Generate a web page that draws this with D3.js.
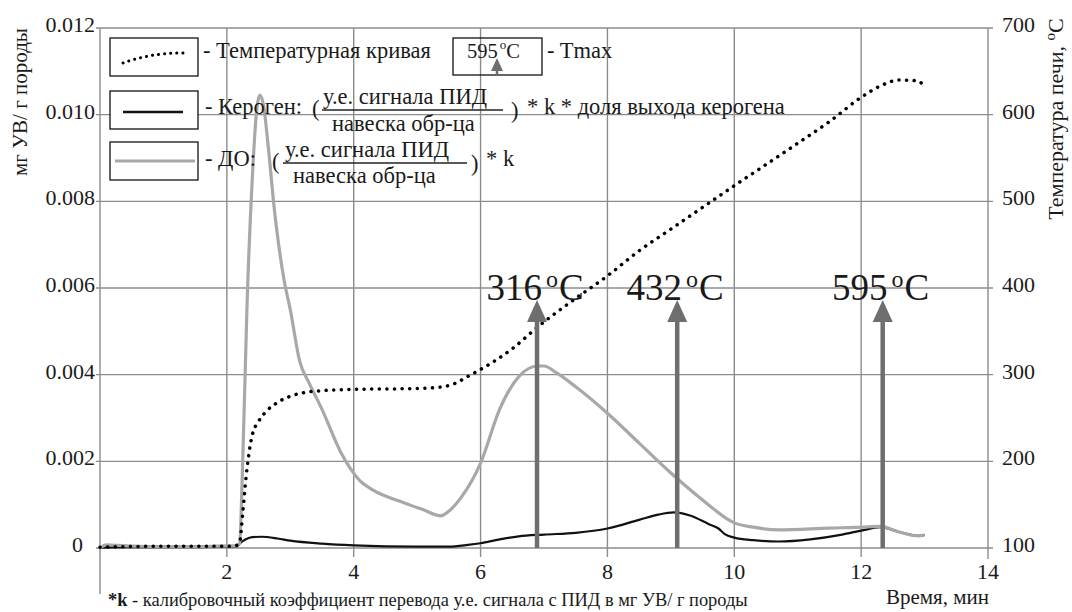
<!DOCTYPE html>
<html lang="ru">

<head>
    <meta charset="UTF-8">
    <title>Пиролиз: кероген и ДО</title>
    <script src="https://d3js.org/d3.v7.min.js"></script>
    <style>
        body {
            margin: 0;
            background: #fff;
        }
    </style>
</head>

<body>
    <svg width="1072" height="612" font-family="'Liberation Serif', 'DejaVu Serif', serif"></svg>

    <script>
        // температурная кривая (правая ось, °C)
        const tempTime = [0, 1, 2, 2.15, 2.2, 2.25, 2.3, 2.35, 2.4, 2.5, 2.6, 2.8, 3.0, 3.4, 4.0, 5.0, 5.4, 5.6, 5.8, 6.0,
            6.5, 6.9, 7.5, 8.0, 8.5, 9.0, 10.0, 11.0, 11.5, 12.0, 12.3, 12.6, 12.9, 13.0];
        const tempValues = [101, 102, 102, 103, 106, 140, 180, 210, 230, 246, 256, 268, 275, 281, 283, 284, 286, 290, 298, 306,
            330, 355, 388, 414, 443, 468, 518, 567, 592, 620, 633, 640, 639, 631];

        // кероген (левая ось, мг УВ/г)
        const kerTime = [0, 0.5, 1, 1.5, 2.0, 2.15, 2.2, 2.3, 2.4, 2.55, 2.8, 3.0, 3.5, 4.0, 5.0, 5.5, 5.8, 6.0, 6.3, 6.6,
            7.0, 7.5, 8.0, 8.5, 8.8, 9.05, 9.3, 9.6, 9.75, 9.85, 10.0, 10.3, 10.7, 11.2, 11.7, 12.0, 12.3, 12.6, 12.9, 13.0];
        const kerValues = [0.00001, 0.00002, 0.00002, 0.00002, 0.00003, 0.00003, 0.0001, 0.0002, 0.00025, 0.00026, 0.00022,
            0.00017, 0.0001, 0.00006, 0.00003, 0.00003, 0.00007, 0.00011, 0.0002, 0.00027, 0.00031, 0.00035, 0.00045,
            0.00065, 0.00077, 0.00082, 0.00075, 0.00055, 0.00045, 0.00032, 0.00024, 0.00018, 0.00015, 0.0002, 0.00031,
            0.0004, 0.00048, 0.00037, 0.00028, 0.0003];

        // ДО (левая ось, мг УВ/г)
        const doTime = [0, 0.1, 0.3, 0.6, 1.0, 1.5, 2.0, 2.15, 2.2, 2.25, 2.32, 2.4, 2.47, 2.52, 2.58, 2.65, 2.75, 2.9, 3.0,
            3.15, 3.3, 3.5, 3.8, 4.1, 4.3, 4.8, 5.1, 5.37, 5.5, 5.7, 6.0, 6.3, 6.6, 6.9, 7.0, 7.2, 7.5, 8.0, 8.5, 9.0, 9.5,
            10.0, 10.3, 10.7, 11.5, 12.0, 12.3, 12.6, 12.9, 13.0];
        const doValues = [0, 0.00007, 0.00006, 0.00004, 0.00003, 0.00003, 0.00005, 0.00005, 0.0001, 0.002, 0.0057, 0.0085,
            0.0101, 0.01045, 0.0102, 0.0093, 0.0078, 0.0062, 0.0055, 0.0043, 0.0038, 0.0032, 0.0022, 0.00155, 0.00134,
            0.00104, 0.00088, 0.00074, 0.00085, 0.00118, 0.00196, 0.0032, 0.00395, 0.0042, 0.0042, 0.00404, 0.00372,
            0.00311, 0.00242, 0.00173, 0.00111, 0.00058, 0.00048, 0.00042, 0.00046, 0.00048, 0.0005, 0.00037, 0.00028, 0.0003];

        // Tmax
        const tmaxTime = [6.89, 9.1, 12.34];
        const tmaxLabels = ["316", "432", "595"];

        const xTicks = [2, 4, 6, 8, 10, 12, 14];
        const leftTicks = [0, 0.002, 0.004, 0.006, 0.008, 0.010, 0.012];
        const leftTickLabels = ["0", "0.002", "0.004", "0.006", "0.008", "0.010", "0.012"];
        const rightTicks = [100, 200, 300, 400, 500, 600, 700];

        const svg = d3.select("svg");
        const gridColor = "#8c8c8c";
        const arrowColor = "#6e6e6e";
        const ink = "#1a1a1a";

        const x = d3.scaleLinear().domain([0, 14]).range([100, 988]);
        const yL = d3.scaleLinear().domain([0, 0.012]).range([548, 28]);
        const yR = d3.scaleLinear().domain([100, 700]).range([548, 28]);

        // сетка
        const grid = svg.append("g");
        grid.selectAll(".hg")
            .data(leftTicks)
            .enter()
            .append("line")
            .attr("x1", x(0) - 4).attr("x2", x(14) + 5)
            .attr("y1", d => yL(d)).attr("y2", d => yL(d))
            .attr("stroke", gridColor).attr("stroke-width", 1.4);

        grid.selectAll(".vg")
            .data(xTicks.filter(d => d < 14))
            .enter()
            .append("line")
            .attr("x1", d => x(d)).attr("x2", d => x(d))
            .attr("y1", yL(0.012)).attr("y2", yL(0) + 9)
            .attr("stroke", gridColor).attr("stroke-width", 1.4);

        // оси
        grid.append("line")
            .attr("x1", x(0)).attr("x2", x(0))
            .attr("y1", yL(0.012)).attr("y2", 594)
            .attr("stroke", gridColor).attr("stroke-width", 1.4);
        grid.append("line")
            .attr("x1", x(14)).attr("x2", x(14))
            .attr("y1", yL(0.012)).attr("y2", yL(0) + 11)
            .attr("stroke", gridColor).attr("stroke-width", 1.4);

        // подписи осей
        svg.append("g").selectAll("text")
            .data(leftTicks)
            .enter()
            .append("text")
            .attr("x", (d, i) => i === 0 ? 83 : 95)
            .attr("y", d => yL(d) + 4)
            .attr("text-anchor", "end")
            .attr("font-size", 22)
            .attr("fill", ink)
            .text((d, i) => leftTickLabels[i]);

        svg.append("g").selectAll("text")
            .data(rightTicks)
            .enter()
            .append("text")
            .attr("x", 1002)
            .attr("y", d => yR(d) + 4)
            .attr("font-size", 22)
            .attr("fill", ink)
            .text(d => d);

        svg.append("g").selectAll("text")
            .data(xTicks)
            .enter()
            .append("text")
            .attr("x", d => x(d))
            .attr("y", 579)
            .attr("text-anchor", "middle")
            .attr("font-size", 22)
            .attr("fill", ink)
            .text(d => d);

        svg.append("text")
            .attr("transform", "translate(27,102) rotate(-90)")
            .attr("text-anchor", "middle")
            .attr("font-size", 21)
            .attr("fill", ink)
            .text("мг УВ/ г породы");

        const rt = svg.append("text")
            .attr("transform", "translate(1063,119) rotate(-90)")
            .attr("text-anchor", "middle")
            .attr("font-size", 22)
            .attr("fill", ink);
        rt.append("tspan").text("Температура печи, ");
        rt.append("tspan").attr("font-size", 15).attr("dy", -8).text("o");
        rt.append("tspan").attr("dy", 8).text("C");

        svg.append("text")
            .attr("x", 989).attr("y", 604)
            .attr("text-anchor", "end")
            .attr("font-size", 21)
            .attr("fill", ink)
            .text("Время, мин");

        const foot = svg.append("text")
            .attr("x", 108).attr("y", 606)
            .attr("font-size", 18.4)
            .attr("fill", ink);
        foot.append("tspan").attr("font-weight", "bold").text("*k");
        foot.append("tspan").text(" - калибровочный коэффициент перевода у.е. сигнала с ПИД в мг УВ/ г породы");

        // кривые
        const lineL = (xs, ys) => d3.line()
            .x((d, i) => x(xs[i]))
            .y(d => yL(d))
            .curve(d3.curveMonotoneX)(ys);

        svg.append("path")
            .attr("d", lineL(kerTime, kerValues))
            .attr("fill", "none")
            .attr("stroke", "#111")
            .attr("stroke-width", 2.2);

        svg.append("path")
            .attr("d", lineL(doTime, doValues))
            .attr("fill", "none")
            .attr("stroke", "#a8a8a8")
            .attr("stroke-width", 3.2)
            .attr("stroke-linejoin", "round");

        const tempLine = d3.line()
            .x((d, i) => x(tempTime[i]))
            .y(d => yR(d))
            .curve(d3.curveMonotoneX);

        svg.append("path")
            .attr("d", tempLine(tempValues))
            .attr("fill", "none")
            .attr("stroke", "#000")
            .attr("stroke-width", 3.5)
            .attr("stroke-linecap", "round")
            .attr("stroke-dasharray", "0.1,7.5");

        // стрелки Tmax
        const arrows = svg.append("g");
        tmaxTime.forEach(function (t, i) {
            const ax = x(t);
            arrows.append("line")
                .attr("x1", ax).attr("x2", ax)
                .attr("y1", yL(0)).attr("y2", 318)
                .attr("stroke", arrowColor).attr("stroke-width", 4.5);
            arrows.append("path")
                .attr("d", `M${ax},300 L${ax - 10},322 L${ax + 10},322 Z`)
                .attr("fill", arrowColor);
            const lbl = arrows.append("text")
                .attr("x", ax - 2).attr("y", 300)
                .attr("text-anchor", "middle")
                .attr("font-size", 37)
                .attr("fill", ink);
            lbl.append("tspan").text(tmaxLabels[i]);
            lbl.append("tspan").attr("font-size", 24).attr("dy", -13).attr("dx", 4).text("o");
            lbl.append("tspan").attr("dy", 13).attr("dx", 1).text("C");
        });

        // легенда
        const fs = 22.5;
        const leg = svg.append("g").attr("fill", ink).attr("font-size", fs);
        [38, 91, 142].forEach(function (yy) {
            leg.append("rect")
                .attr("x", 110).attr("y", yy).attr("width", 88).attr("height", 38)
                .attr("fill", "#fff").attr("stroke", "#111").attr("stroke-width", 1.3);
        });
        leg.append("path")
            .attr("d", "M123,63 Q150,53 183,53")
            .attr("fill", "none").attr("stroke", "#000").attr("stroke-width", 3)
            .attr("stroke-linecap", "round").attr("stroke-dasharray", "0.1,6");
        leg.append("line")
            .attr("x1", 123).attr("x2", 183).attr("y1", 112).attr("y2", 112)
            .attr("stroke", "#111").attr("stroke-width", 2.4);
        leg.append("line")
            .attr("x1", 115).attr("x2", 195).attr("y1", 161).attr("y2", 161)
            .attr("stroke", "#a8a8a8").attr("stroke-width", 3);

        leg.append("text").attr("x", 203).attr("y", 58).text("- Температурная кривая");

        // рамка Tmax
        leg.append("rect")
            .attr("x", 453).attr("y", 38).attr("width", 89).attr("height", 37)
            .attr("fill", "none").attr("stroke", "#111").attr("stroke-width", 1.3);
        const tb = leg.append("text").attr("x", 467).attr("y", 58).attr("font-size", 20.5);
        tb.append("tspan").text("595");
        tb.append("tspan").attr("font-size", 13).attr("dy", -9).attr("dx", 2).text("o");
        tb.append("tspan").attr("dy", 9).text("C");
        leg.append("path")
            .attr("d", "M497,58 L491,71 L503,71 Z")
            .attr("fill", arrowColor);
        leg.append("line")
            .attr("x1", 497).attr("x2", 497).attr("y1", 70).attr("y2", 75)
            .attr("stroke", arrowColor).attr("stroke-width", 2.5);
        leg.append("text").attr("x", 547).attr("y", 58).text("- Tmax");

        // Кероген
        leg.append("text").attr("x", 205).attr("y", 114).text("- Кероген:");
        leg.append("text").attr("x", 312).attr("y", 116).text("(");
        leg.append("text").attr("x", 323).attr("y", 104).text("у.е. сигнала ПИД");
        leg.append("line").attr("x1", 322).attr("x2", 503).attr("y1", 110).attr("y2", 110)
            .attr("stroke", "#222").attr("stroke-width", 1.6);
        leg.append("text").attr("x", 332).attr("y", 131).text("навеска обр-ца");
        leg.append("text").attr("x", 511).attr("y", 118).text(")");
        leg.append("text").attr("x", 527).attr("y", 114).text("* k * доля выхода керогена");

        // ДО
        leg.append("text").attr("x", 205).attr("y", 166).text("- ДО:");
        leg.append("text").attr("x", 272).attr("y", 169).text("(");
        leg.append("text").attr("x", 285).attr("y", 157).text("у.е. сигнала ПИД");
        leg.append("line").attr("x1", 283).attr("x2", 467).attr("y1", 163).attr("y2", 163)
            .attr("stroke", "#222").attr("stroke-width", 1.6);
        leg.append("text").attr("x", 293).attr("y", 183).text("навеска обр-ца");
        leg.append("text").attr("x", 471).attr("y", 171).text(")");
        leg.append("text").attr("x", 486).attr("y", 166).text("* k");
    </script>
</body>

</html>
